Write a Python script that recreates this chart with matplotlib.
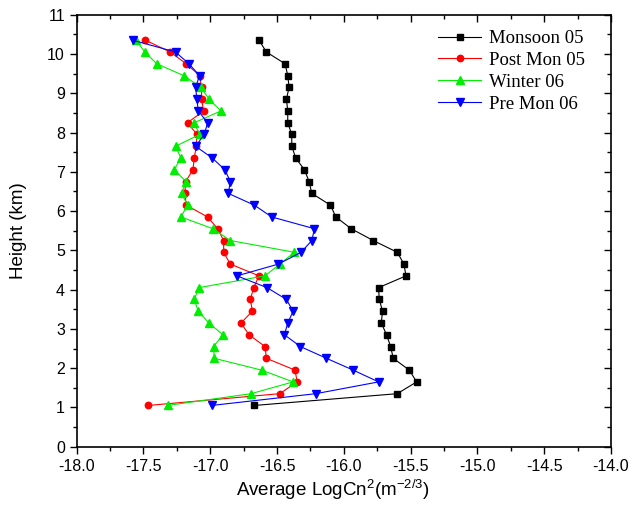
import matplotlib
matplotlib.use("Agg")
import matplotlib.pyplot as plt
from matplotlib.ticker import MultipleLocator, FormatStrFormatter

plt.rcParams['font.family'] = ['Liberation Sans', 'DejaVu Sans']
plt.rcParams['mathtext.default'] = 'regular'

heights = [1.05, 1.35, 1.65, 1.95, 2.25, 2.55, 2.85, 3.15, 3.45, 3.75, 4.05,
           4.35, 4.65, 4.95, 5.25, 5.55, 5.85, 6.15, 6.45, 6.75, 7.05, 7.35,
           7.65, 7.95, 8.25, 8.55, 8.85, 9.15, 9.45, 9.75, 10.05, 10.35]

monsoon05 = [-16.67, -15.60, -15.455, -15.51, -15.63, -15.65, -15.68, -15.72,
             -15.71, -15.735, -15.74, -15.535, -15.55, -15.60, -15.78, -15.945,
             -16.06, -16.10, -16.24, -16.26, -16.295, -16.36, -16.39, -16.39,
             -16.42, -16.42, -16.43, -16.41, -16.42, -16.44, -16.58, -16.635]

postmon05 = [-17.465, -16.48, -16.35, -16.365, -16.58, -16.59, -16.71, -16.77,
             -16.685, -16.70, -16.675, -16.635, -16.85, -16.90, -16.90, -16.945,
             -17.02, -17.18, -17.19, -17.185, -17.13, -17.12, -17.105, -17.10,
             -17.17, -17.05, -17.065, -17.065, -17.08, -17.18, -17.30, -17.485]

winter06 = [-17.32, -16.695, -16.38, -16.615, -16.97, -16.975, -16.905, -17.01,
            -17.09, -17.12, -17.085, -16.59, -16.48, -16.37, -16.85, -16.98,
            -17.22, -17.17, -17.215, -17.18, -17.27, -17.22, -17.26, -17.08,
            -17.12, -16.92, -17.01, -17.07, -17.20, -17.40, -17.49, -17.555]

premon06 = [-16.99, -16.21, -15.74, -15.93, -16.13, -16.325, -16.445, -16.42,
            -16.38, -16.43, -16.575, -16.80, -16.49, -16.32, -16.24, -16.22,
            -16.54, -16.67, -16.865, -16.85, -16.89, -16.985, -17.11, -17.045,
            -17.02, -17.09, -17.10, -17.11, -17.08, -17.16, -17.26, -17.58]

labels = ["Monsoon 05", "Post Mon 05", "Winter 06", "Pre Mon 06"]
xticks = [-18.0, -17.5, -17.0, -16.5, -16.0, -15.5, -15.0, -14.5, -14.0]
yticks = list(range(0, 12))

fig = plt.figure(figsize=(6.41, 5.08), dpi=100)
ax = fig.add_axes([76.7/641, 1-446.7/508, (611-76.7)/641, (446.7-14.7)/508])

ax.plot(monsoon05, heights, color='black', lw=0.8, marker='s', ms=4.2,
        label=labels[0])
ax.plot(postmon05, heights, color='#ff0000', lw=0.8, marker='o', ms=4.6,
        label=labels[1])
ax.plot(winter06, heights, color='#00ee00', lw=0.8, marker='^', ms=5.2,
        label=labels[2])
ax.plot(premon06, heights, color='#0000ff', lw=0.8, marker='v', ms=5.2,
        label=labels[3])

ax.set_xlim(-18, -14)
ax.set_ylim(0, 11)
ax.set_xticks(xticks)
ax.set_yticks(yticks)
ax.xaxis.set_major_formatter(FormatStrFormatter('%.1f'))
ax.xaxis.set_minor_locator(MultipleLocator(0.25))
ax.yaxis.set_minor_locator(MultipleLocator(0.5))

ax.tick_params(axis='both', which='both', width=1.0, labelsize=11.5)
ax.tick_params(axis='x', which='major', direction='out', length=5, top=True)
ax.tick_params(axis='x', which='minor', direction='out', length=3, top=True)
ax.tick_params(axis='y', which='major', direction='out', length=5, right=True)
ax.tick_params(axis='y', which='minor', direction='out', length=3, right=True)
# top and right ticks inward
for t in ax.xaxis.get_major_ticks() + ax.xaxis.get_minor_ticks():
    t.tick2line.set_marker(3)
for t in ax.yaxis.get_major_ticks() + ax.yaxis.get_minor_ticks():
    t.tick2line.set_marker(0)
for s in ax.spines.values():
    s.set_linewidth(1.2)

ax.set_xlabel('Average LogCn$^{2}$(m$^{-2/3}$)', fontsize=13.5)
ax.xaxis.set_label_coords(0.48, -0.072)
ax.set_ylabel('Height (km)', fontsize=13.5)
ax.yaxis.set_label_coords(-0.093, 0.5)

leg = ax.legend(loc='upper left', bbox_to_anchor=(438/641, 1-30/508),
                bbox_transform=fig.transFigure, frameon=False,
                prop={'family': ['Liberation Serif'], 'size': 13.5},
                handlelength=2.3, handletextpad=0.4, labelspacing=0.25,
                borderpad=0, borderaxespad=0)

fig.savefig('out.png', dpi=100)
